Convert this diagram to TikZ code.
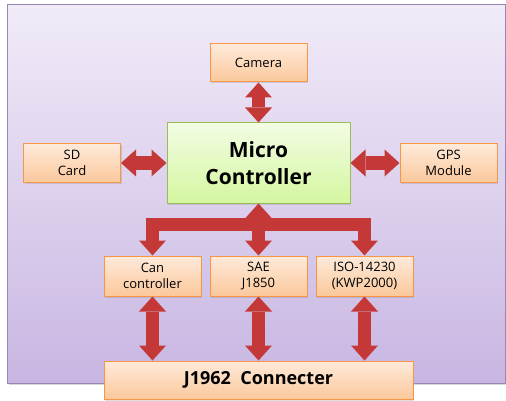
\documentclass[tikz,border=0pt]{standalone}
\usepackage{fontspec}
\setmainfont{Open Sans}
\usetikzlibrary{arrows.meta,shadows}

\definecolor{bgtop}{RGB}{241,235,248}
\definecolor{bgbot}{RGB}{200,182,226}
\definecolor{bgline}{RGB}{150,135,180}
\definecolor{boxtop}{RGB}{254,234,218}
\definecolor{boxbot}{RGB}{251,200,155}
\definecolor{boxline}{RGB}{247,150,70}
\definecolor{mctop}{RGB}{243,253,228}
\definecolor{mcbot}{RGB}{212,246,160}
\definecolor{mcline}{RGB}{155,187,89}
\definecolor{arrowred}{RGB}{196,57,55}

\begin{document}
\begin{tikzpicture}[x=1pt,y=-1pt]
\tikzstyle{every node}+=[inner sep=0pt]
\tikzstyle{box}=[draw=boxline, line width=1pt, top color=boxtop, bottom color=boxbot,
  drop shadow={opacity=0.25,shadow xshift=1pt,shadow yshift=-1.5pt},
  minimum width=97pt, minimum height=38pt, align=center,
  font=\fontsize{13}{16}\selectfont]
\tikzstyle{tip}=[-{Triangle[width=27pt,length=15pt,line width=0pt]}]
\tikzstyle{fat}=[draw=arrowred, fill=arrowred, line width=13pt]
\tikzstyle{both}=[fat, {Triangle[width=27pt,length=15pt,line width=0pt]}-{Triangle[width=27pt,length=15pt,line width=0pt]}]
\useasboundingbox (0,0) rectangle (506,401);
% background
\draw [bgline, line width=1pt, top color=bgtop, bottom color=bgbot,
  drop shadow={opacity=0.3,shadow xshift=1.5pt,shadow yshift=-1.5pt}] (7,5) rectangle (505,383);
% blocks
\node [box] (cam) at (258.5,63) {Camera};
\node [box, draw=mcline, top color=mctop, bottom color=mcbot, minimum width=183pt,
  minimum height=80pt, font=\bfseries\fontsize{21}{27}\selectfont] (mc) at (258.5,163) {Micro\\Controller};
\node [box] (sd) at (72,163) {SD\\Card};
\node [box] (gps) at (448.5,163) {GPS\\Module};
\node [box, minimum height=40pt] (can) at (152.5,276) {Can\\controller};
\node [box, minimum height=40pt] (sae) at (258.5,276) {SAE\\J1850};
\node [box, minimum height=40pt] (iso) at (364.5,276) {ISO-14230\\(KWP2000)};
\node [box, minimum width=309pt, font=\bfseries\fontsize{18}{22}\selectfont] (j1962) at (258.5,380) {J1962~~Connecter};
% links
\draw [both] (cam) -- (mc);
\draw [both] (sd) -- (mc);
\draw [both] (gps) -- (mc);
\coordinate (busL) at (152.5,224);
\coordinate (busR) at (364.5,224);
\draw [fat, line cap=rect] (busL) -- (busR);
\draw [fat, tip] (busL) -- (can.north);
\draw [fat, tip] (busR) -- (iso.north);
\draw [both] (mc) -- (sae);
\draw [both] (can) -- (can |- j1962.north);
\draw [both] (sae) -- (j1962);
\draw [both] (iso) -- (iso |- j1962.north);
\end{tikzpicture}
\end{document}
